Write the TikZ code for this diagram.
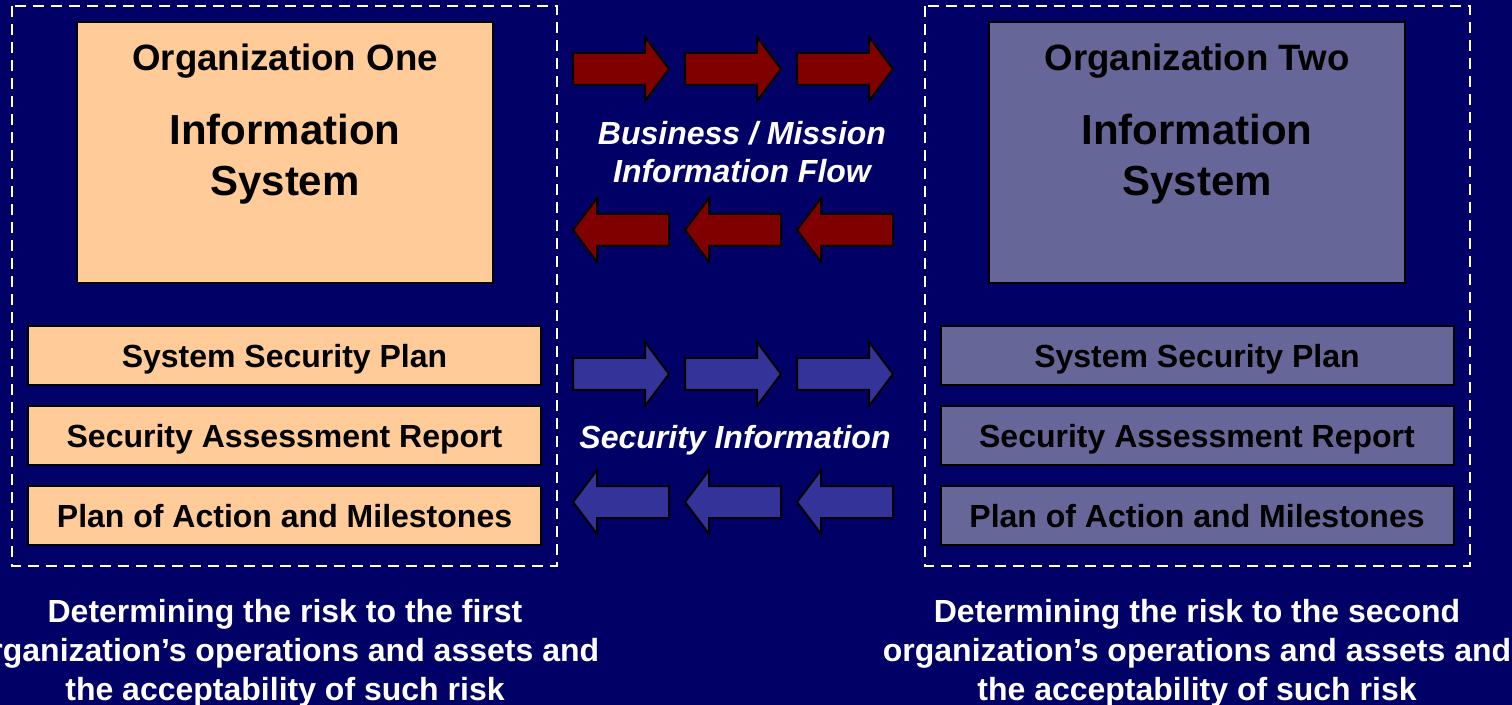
\documentclass[tikz,border=0pt]{standalone}
\usepackage{fontspec}
\setmainfont{Liberation Sans}
\definecolor{bg}{HTML}{000066}
\definecolor{peach}{HTML}{FFCC99}
\definecolor{lav}{HTML}{666699}
\definecolor{darkred}{HTML}{800000}
\definecolor{bluearr}{HTML}{333399}
\tikzset{
  orgbox/.style={draw=black, line width=1.5pt, inner sep=0pt, outer sep=0pt, minimum width=312pt, minimum height=195.75pt},
  docbox/.style={draw=black, line width=1.5pt, inner sep=0pt, outer sep=0pt, minimum width=384.75pt, minimum height=44.25pt, text height=17.5pt, text depth=0pt, font=\fontsize{24}{29}\selectfont\bfseries},
  dashbox/.style={draw=white, line width=1.5pt, dash pattern=on 8.25pt off 5.25pt},
  orgtitle/.style={font=\fontsize{27.5}{33}\selectfont\bfseries, inner sep=0pt, text height=20pt, text depth=0pt},
  bigtitle/.style={font=\fontsize{31.5}{38.25}\selectfont\bfseries, align=center, inner sep=0pt},
  flowlabel/.style={text=white, font=\fontsize{24}{28.5}\selectfont\bfseries\itshape, align=center, inner sep=0pt},
  risktext/.style={text=white, font=\fontsize{24}{29.25}\selectfont\bfseries, align=center, inner sep=0pt},
  blockarrow/.pic={\draw[pic actions, line width=1.5pt, line join=miter] (0,-16)--(72,-16)--(72,-32)--(96,0)--(72,32)--(72,16)--(0,16)--cycle;},
  redarr/.style={fill=darkred, draw=black},
  bluarr/.style={fill=bluearr, draw=black}
}
\begin{document}
\begin{tikzpicture}[x=0.75pt,y=-0.75pt]
\fill[bg] (0,0) rectangle (1512,705);
\useasboundingbox (0,0) rectangle (1512,705);

% dashed organisation frames
\draw[dashbox] (12,6) rectangle (557,566);
\draw[dashbox] (925,6) rectangle (1470,566);

% organisation one
\node[orgbox, fill=peach] (o1) at (285,152.5) {};
\node[orgtitle] (o1t) at (285,57) {Organization One};
\node[bigtitle] (o1s) at (285,159) {Information\\System};
\node[docbox, fill=peach] (o1a) at (284.5,355.5) {System Security Plan};
\node[docbox, fill=peach] (o1b) at (284.5,435.5) {Security Assessment Report};
\node[docbox, fill=peach] (o1c) at (284.5,515.5) {Plan of Action and Milestones};

% organisation two
\node[orgbox, fill=lav] (o2) at (1197,152.5) {};
\node[orgtitle] (o2t) at (1197,57) {Organization Two};
\node[bigtitle] (o2s) at (1197,159) {Information\\System};
\node[docbox, fill=lav] (o2a) at (1197,355.5) {System Security Plan};
\node[docbox, fill=lav] (o2b) at (1197,435.5) {Security Assessment Report};
\node[docbox, fill=lav] (o2c) at (1197,515.5) {Plan of Action and Milestones};

% business / mission and security information arrows
\foreach \x in {573,685,797} {
  \pic[redarr] at (\x,69) {blockarrow};
  \pic[redarr, xscale=-1] at (\x+96,230) {blockarrow};
  \pic[bluarr] at (\x,374) {blockarrow};
  \pic[bluarr, xscale=-1] at (\x+96,502) {blockarrow};
}
\node[flowlabel] (bm) at (742,152) {Business / Mission\\Information Flow};
\node[flowlabel] (si) at (735,440) {Security Information};

% risk statements
\node[risktext] (r1) at (285,653) {Determining the risk to the first\\organization’s operations and assets and\\the acceptability of such risk};
\node[risktext] (r2) at (1197,653) {Determining the risk to the second\\organization’s operations and assets and\\the acceptability of such risk};
\end{tikzpicture}
\end{document}
